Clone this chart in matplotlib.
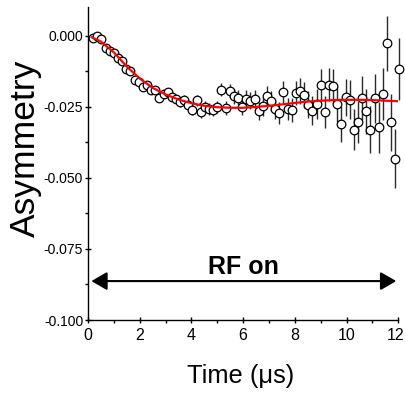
import numpy as np
import matplotlib
matplotlib.use("Agg")
import matplotlib.pyplot as plt
from matplotlib.transforms import ScaledTranslation

# ---- data ----
time_us = np.round(0.2 + 0.16 * np.arange(75), 2)
asym = [-0.0008, 0.0000, -0.0012, -0.0043, -0.0052, -0.0061, -0.0078, -0.0090, -0.0117, -0.0123,
        -0.0154, -0.0164, -0.0180, -0.0172, -0.0189, -0.0192, -0.0219, -0.0204, -0.0199, -0.0215,
        -0.0222, -0.0234, -0.0225, -0.0242, -0.0260, -0.0227, -0.0269, -0.0250, -0.0257, -0.0260,
        -0.0250, -0.0189, -0.0254, -0.0195, -0.0213, -0.0217, -0.0250, -0.0221, -0.0228, -0.0222,
        -0.0263, -0.0248, -0.0211, -0.0228, -0.0257, -0.0271, -0.0198, -0.0257, -0.0262, -0.0201,
        -0.0193, -0.0207, -0.0242, -0.0263, -0.0239, -0.0172, -0.0269, -0.0172, -0.0178, -0.0240,
        -0.0309, -0.0216, -0.0225, -0.0330, -0.0304, -0.0219, -0.0266, -0.0330, -0.0219, -0.0322,
        -0.0205, -0.0026, -0.0304, -0.0433, -0.0117]
asym_err = [0.0006, 0.0006, 0.0007, 0.0007, 0.0007, 0.0008, 0.0008, 0.0008, 0.0009, 0.0009,
            0.0010, 0.0010, 0.0011, 0.0011, 0.0012, 0.0012, 0.0013, 0.0013, 0.0014, 0.0014,
            0.0015, 0.0016, 0.0016, 0.0017, 0.0018, 0.0018, 0.0019, 0.0020, 0.0021, 0.0022,
            0.0022, 0.0023, 0.0024, 0.0025, 0.0026, 0.0027, 0.0028, 0.0029, 0.0030, 0.0031,
            0.0032, 0.0033, 0.0034, 0.0035, 0.0036, 0.0038, 0.0039, 0.0040, 0.0042, 0.0043,
            0.0045, 0.0046, 0.0048, 0.0050, 0.0052, 0.0054, 0.0056, 0.0058, 0.0060, 0.0062,
            0.0064, 0.0066, 0.0069, 0.0071, 0.0074, 0.0077, 0.0080, 0.0083, 0.0086, 0.0089,
            0.0092, 0.0096, 0.0100, 0.0104, 0.0108]

fit_t = [0.15, 0.5, 1.0, 1.5, 2.0, 2.5, 3.0, 3.5, 4.0, 4.5, 5.0, 5.5, 6.0, 6.5, 7.0, 7.5,
         8.0, 8.5, 9.0, 9.5, 10.0, 10.5, 11.0, 11.5, 12.0]
fit_y = [-0.0005, -0.0020, -0.0058, -0.0108, -0.0150, -0.0183, -0.0206, -0.0224, -0.0237,
         -0.0246, -0.0251, -0.0253, -0.0253, -0.0250, -0.0246, -0.0241, -0.0236, -0.0231,
         -0.0228, -0.0226, -0.0225, -0.0225, -0.0226, -0.0228, -0.0230]

x_ticks = [0, 2, 4, 6, 8, 10, 12]
y_ticks = [0.000, -0.025, -0.050, -0.075, -0.100]
y_tick_labels = ["0.000", "-0.025", "-0.050", "-0.075", "-0.100"]
arrow_span = (0.13, 11.92)
arrow_level = -0.0863
label_text = "RF on"

plt.rcParams['font.family'] = ['Liberation Sans', 'DejaVu Sans']

fig = plt.figure(figsize=(4.05, 3.98), dpi=100)
ax = fig.add_axes([88 / 405, 1 - 320 / 398, (398.3 - 88) / 405, (320 - 7.5) / 398])

ax.errorbar(time_us, asym, yerr=asym_err, fmt='none', ecolor='#2a2a2a', elinewidth=1.0,
            capsize=0, zorder=2, clip_on=False)
ax.plot(time_us, asym, 'o', ms=6.2, mfc='white', mec='black', mew=0.9, zorder=3, clip_on=False)
ax.plot(fit_t, fit_y, color='#ff0000', lw=1.6, zorder=4)

ax.annotate('', xy=(arrow_span[1], arrow_level), xytext=(arrow_span[0], arrow_level),
            arrowprops=dict(arrowstyle='<|-|>,head_length=0.95,head_width=0.55',
                            color='black', lw=1.5, mutation_scale=10,
                            shrinkA=0, shrinkB=0))
ax.text(6.0, -0.0839, label_text, ha='center', va='baseline', fontsize=18,
        fontweight='bold')

ax.set_xlim(0, 12)
ax.set_ylim(-0.1, 0.01)
ax.spines['top'].set_visible(False)
ax.spines['right'].set_visible(False)
ax.spines['left'].set_linewidth(1.0)
ax.spines['bottom'].set_linewidth(1.0)

ax.set_xticks(x_ticks)
ax.set_xticklabels([str(v) for v in x_ticks], fontsize=11.5)
ax.set_yticks(y_ticks)
ax.set_yticklabels(y_tick_labels, fontsize=10)
ax.set_xticks([1, 3, 5, 7, 9, 11], minor=True)
ax.set_yticks([-0.0125, -0.0375, -0.0625, -0.0875], minor=True)
ax.tick_params(which='major', direction='inout', length=5, width=1.0)
ax.tick_params(which='minor', direction='out', length=2.5, width=1.0)
ax.tick_params(axis='x', which='major', pad=3)
ax.tick_params(axis='y', which='major', pad=1)

last = ax.get_xticklabels()[-1]
last.set_transform(last.get_transform() + ScaledTranslation(-2.5 / 100, 0, fig.dpi_scale_trans))

fig.text(25 / 405, 1 - 148 / 398, "Asymmetry", rotation=90, ha='center', va='center',
         fontsize=25.5)
fig.text(241 / 405, 1 - 382.7 / 398, "Time (\u03bcs)", ha='center', va='baseline',
         fontsize=18.4)

fig.savefig("out.png", dpi=100)
